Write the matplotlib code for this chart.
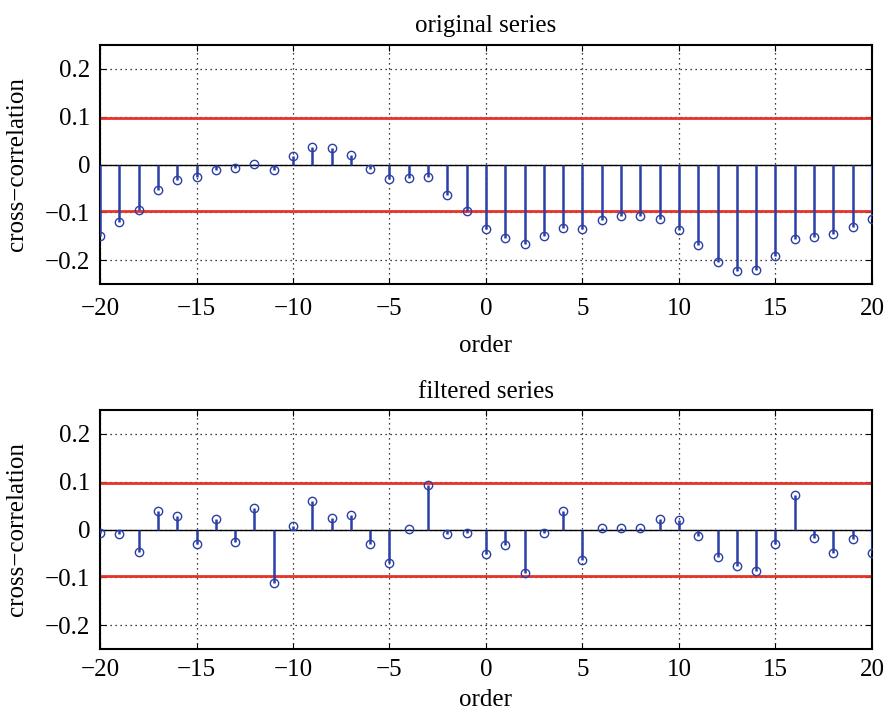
import matplotlib
matplotlib.use("Agg")
import matplotlib.pyplot as plt
import numpy as np

lags = list(range(-20, 21))
original = [-0.150, -0.121, -0.095, -0.053, -0.032, -0.026, -0.011, -0.008, 0.001, -0.011,
            0.017, 0.036, 0.034, 0.020, -0.010, -0.030, -0.028, -0.026, -0.063, -0.097,
            -0.134, -0.153, -0.166, -0.149, -0.132, -0.134, -0.116, -0.108, -0.107, -0.114,
            -0.136, -0.169, -0.204, -0.223, -0.220, -0.191, -0.155, -0.151, -0.146, -0.131,
            -0.113]
filtered = [-0.007, -0.010, -0.047, 0.039, 0.029, -0.031, 0.022, -0.026, 0.046, -0.112,
            0.008, 0.060, 0.025, 0.031, -0.031, -0.071, 0.002, 0.093, -0.009, -0.007,
            -0.052, -0.033, -0.090, -0.008, 0.038, -0.064, 0.003, 0.003, 0.003, 0.022,
            0.019, -0.014, -0.057, -0.077, -0.087, -0.030, 0.072, -0.017, -0.050, -0.019,
            -0.049]
bound = 0.098
titles = ["original series", "filtered series"]
xticks = [-20, -15, -10, -5, 0, 5, 10, 15, 20]
yticks = [-0.2, -0.1, 0, 0.1, 0.2]
yticklabels = ["\u22120.2", "\u22120.1", "0", "0.1", "0.2"]
xticklabels = ["\u221220", "\u221215", "\u221210", "\u22125", "0", "5", "10", "15", "20"]

plt.rcParams['font.family'] = ['Liberation Serif', 'DejaVu Serif']
plt.rcParams['font.size'] = 18

fig = plt.figure(figsize=(8.87, 7.13), dpi=100)
W, H = 887, 713
boxes = [(100, 45, 872, 284), (100, 410, 872, 649)]
xpads = [10, 7]
labelpads = [11, 6]
blue = '#2b3fa6'
red = '#e8332a'
for (l, t, r, b), data, title, xp, lp in zip(boxes, [original, filtered], titles, xpads, labelpads):
    ax = fig.add_axes([l / W, 1 - b / H, (r - l) / W, (b - t) / H])
    ax.set_xlim(-20, 20)
    ax.set_ylim(-0.25, 0.25)
    ax.set_xticks(xticks)
    ax.set_xticklabels(xticklabels)
    ax.set_yticks(yticks)
    ax.set_yticklabels(yticklabels)
    ax.grid(True, linestyle=(0, (1, 3)), color='black', linewidth=0.9)
    ax.set_axisbelow(True)
    ax.axhline(0, color='black', linewidth=1.0, zorder=2)
    ax.axhline(bound, color=red, linewidth=2.0, zorder=2)
    ax.axhline(-bound, color=red, linewidth=2.0, zorder=2)
    ax.vlines(lags, 0, data, color=blue, linewidth=1.8, zorder=3)
    ax.plot(lags, data, linestyle='none', marker='o', markersize=6,
            markerfacecolor='none', markeredgecolor=blue, markeredgewidth=1.0, zorder=4)
    ax.tick_params(direction='in', top=True, right=True, length=4, width=0.8, pad=7)
    ax.tick_params(axis='x', pad=xp)
    for s in ax.spines.values():
        s.set_linewidth(1.5)
    ax.set_title(title, fontsize=18, pad=9)
    ax.set_xlabel('order', fontsize=18, labelpad=lp)
    ax.set_ylabel('cross\u2212correlation', fontsize=18, labelpad=12)

fig.savefig('out.png', dpi=100)
